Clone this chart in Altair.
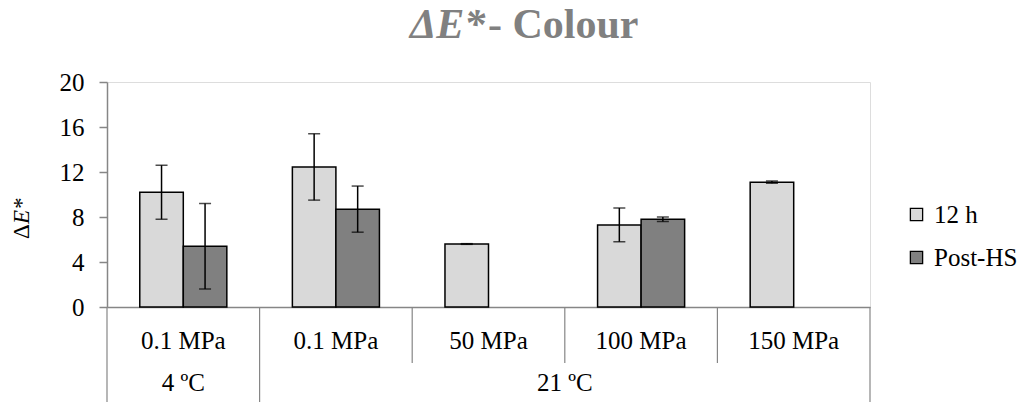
import altair as alt
import pandas as pd

# ---- data ----
cat_ids = ["c1", "c2", "c3", "c4", "c5"]
pressure = ["0.1 MPa", "0.1 MPa", "50 MPa", "100 MPa", "150 MPa"]
temperature = ["4 ºC", "21 ºC", "21 ºC", "21 ºC", "21 ºC"]
series = ["12 h", "Post-HS"]
mean_12h = [10.2, 12.45, 5.6, 7.3, 11.1]
err_12h = [2.4, 2.95, 0.03, 1.5, 0.1]
mean_post = [5.4, 8.7, None, 7.8, None]
err_post = [3.8, 2.05, None, 0.2, None]
y_ticks = [0, 4, 8, 12, 16, 20]
title_parts = ["ΔE*", "- Colour"]
ytitle_parts = ["Δ", "E*"]

FONT = "Times New Roman, Liberation Serif, serif"
GRAY = "#868686"
FS = 25

rows = []
for i, c in enumerate(cat_ids):
    for s, m, e in ((series[0], mean_12h[i], err_12h[i]), (series[1], mean_post[i], err_post[i])):
        if m is None:
            continue
        rows.append({"cat": c, "series": s, "mean": m, "lo": m - e, "hi": m + e})
df = pd.DataFrame(rows)

xscale = alt.Scale(domain=cat_ids, paddingInner=0, paddingOuter=0)
xoff = alt.XOffset("series:N", scale=alt.Scale(domain=series, paddingOuter=0.753, paddingInner=0))
yscale = alt.Scale(domain=[0, 20])

base = alt.Chart(df)

bars = base.mark_bar(stroke="black", strokeWidth=1.5).encode(
    x=alt.X("cat:N", scale=xscale,
            axis=alt.Axis(labels=False, ticks=False, title=None, domainColor=GRAY, domainWidth=1.5)),
    xOffset=xoff,
    y=alt.Y("mean:Q", scale=yscale,
            axis=alt.Axis(values=y_ticks, grid=False, title=None, tickSize=8, tickColor=GRAY,
                          tickWidth=1.5, domainColor=GRAY, domainWidth=1.5, labelFont=FONT,
                          labelFontSize=FS, labelColor="black", labelPadding=15)),
    color=alt.Color("series:N", scale=alt.Scale(domain=series, range=["#d9d9d9", "#808080"]),
                    legend=alt.Legend(orient="none", legendX=797, legendY=120, title=None,
                                      labelFont=FONT, labelFontSize=FS, labelColor="black",
                                      symbolType="square", symbolSize=150,
                                      symbolStrokeColor="black", symbolStrokeWidth=1.3,
                                      rowPadding=17, labelOffset=5)),
)

err = base.mark_rule(color="black", strokeWidth=1.5).encode(
    x=alt.X("cat:N", scale=xscale), xOffset=xoff,
    y=alt.Y("lo:Q", scale=yscale), y2="hi:Q",
)
cap_lo = base.mark_tick(color="black", thickness=1.5, size=12, orient="horizontal").encode(
    x=alt.X("cat:N", scale=xscale), xOffset=xoff, y=alt.Y("lo:Q", scale=yscale))
cap_hi = base.mark_tick(color="black", thickness=1.5, size=12, orient="horizontal").encode(
    x=alt.X("cat:N", scale=xscale), xOffset=xoff, y=alt.Y("hi:Q", scale=yscale))

# category dividers below the axis
short_df = pd.DataFrame({"cat": cat_ids[2:]})
short_rules = alt.Chart(short_df).mark_rule(color=GRAY, strokeWidth=1.2).encode(
    x=alt.X("cat:N", scale=xscale, bandPosition=0), y=alt.value(225), y2=alt.value(281))
long_start_df = pd.DataFrame({"cat": cat_ids[:2]})
long_start = alt.Chart(long_start_df).mark_rule(color=GRAY, strokeWidth=1.2).encode(
    x=alt.X("cat:N", scale=xscale, bandPosition=0), y=alt.value(225), y2=alt.value(320))
long_end_df = pd.DataFrame({"cat": cat_ids[-1:]})
long_end = alt.Chart(long_end_df).mark_rule(color=GRAY, strokeWidth=1.2).encode(
    x=alt.X("cat:N", scale=xscale, bandPosition=1), y=alt.value(225), y2=alt.value(320))

# x labels row 1 (pressure)
lab1_df = pd.DataFrame({"cat": cat_ids, "lab": pressure})
lab1 = alt.Chart(lab1_df).mark_text(font=FONT, fontSize=FS, color="black", baseline="middle").encode(
    x=alt.X("cat:N", scale=xscale), y=alt.value(259), text="lab:N")

# x labels row 2 (temperature)
t1_df = pd.DataFrame({"cat": [cat_ids[0]], "lab": [temperature[0]]})
t1 = alt.Chart(t1_df).mark_text(font=FONT, fontSize=FS, color="black", baseline="middle").encode(
    x=alt.X("cat:N", scale=xscale), y=alt.value(301), text="lab:N")
t2_df = pd.DataFrame({"cat": [cat_ids[3]], "lab": [temperature[1]]})
t2 = alt.Chart(t2_df).mark_text(font=FONT, fontSize=FS, color="black", baseline="middle").encode(
    x=alt.X("cat:N", scale=xscale, bandPosition=0), y=alt.value(301), text="lab:N")

# title
tA = alt.Chart(pd.DataFrame({"t": [title_parts[0]]})).mark_text(
    font=FONT, fontSize=42, fontWeight="bold", fontStyle="italic", color="#808080",
    align="left", baseline="alphabetic").encode(x=alt.value(303), y=alt.value(-44), text="t:N")
tB = alt.Chart(pd.DataFrame({"t": [title_parts[1]]})).mark_text(
    font=FONT, fontSize=42, fontWeight="bold", color="#808080",
    align="left", baseline="alphabetic").encode(x=alt.value(381), y=alt.value(-44), text="t:N")

# y axis title
yA = alt.Chart(pd.DataFrame({"t": [ytitle_parts[0]]})).mark_text(
    font=FONT, fontSize=23, color="black", angle=270, align="left", baseline="middle").encode(
    x=alt.value(-85), y=alt.value(157), text="t:N")
yB = alt.Chart(pd.DataFrame({"t": [ytitle_parts[1]]})).mark_text(
    font=FONT, fontSize=23, fontStyle="italic", color="black", angle=270, align="left",
    baseline="middle").encode(x=alt.value(-85), y=alt.value(142), text="t:N")

chart = alt.layer(
    bars, err, cap_lo, cap_hi, short_rules, long_start, long_end, lab1, t1, t2, tA, tB, yA, yB
).properties(
    width=763, height=225,
    autosize=alt.AutoSizeParams(type="none"),
    padding={"left": 107, "top": 82, "right": 150, "bottom": 95},
).configure_view(stroke=None).configure(background="white", font=FONT)

chart.save("out.html", embed_options={"renderer": "svg", "actions": False})
